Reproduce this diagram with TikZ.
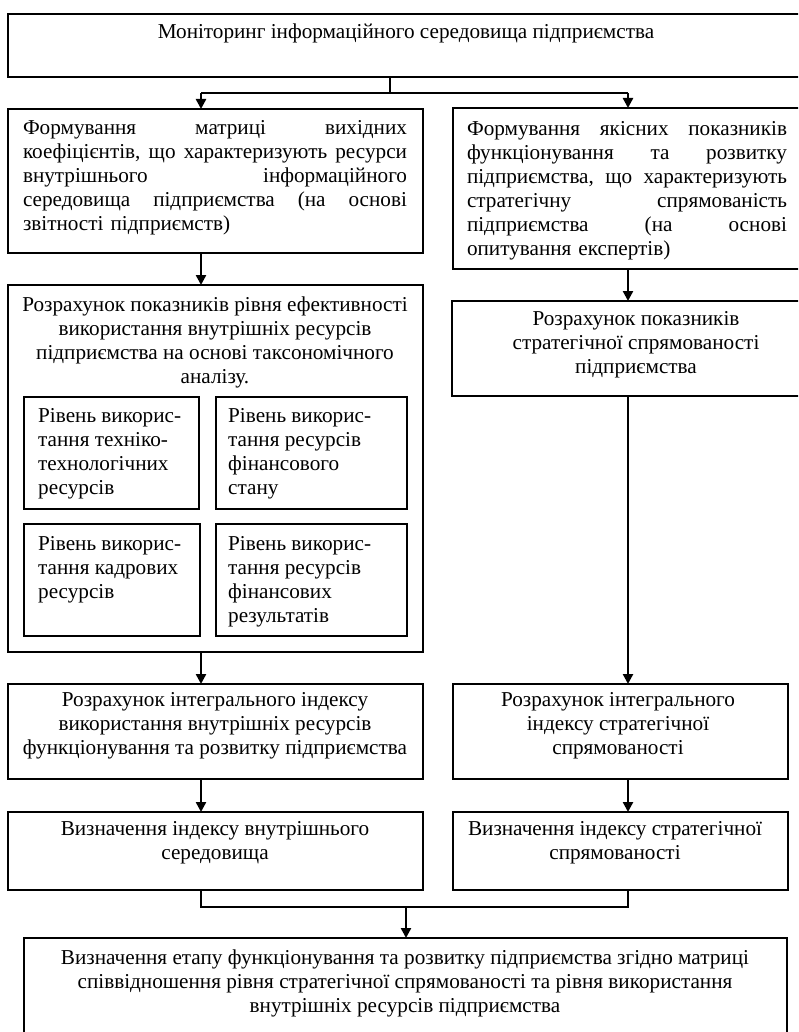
\documentclass[tikz,border=0pt]{standalone}
\usepackage{fontspec}
\setmainfont{Liberation Serif}
\usetikzlibrary{arrows.meta}
\begin{document}
\begin{tikzpicture}[x=1pt,y=-1pt,
  box/.style={draw=black,line width=1.4pt,rectangle,inner sep=0pt,outer sep=0pt},
  txt/.style={inner sep=0pt,font=\fontsize{21.2}{24}\selectfont},
  arr/.style={line width=2.4pt,-{Triangle[width=10pt,length=10pt]}},
  con/.style={line width=1.4pt}]
\useasboundingbox (0,0) rectangle (798,1032);
\fill[white] (0,0) rectangle (798,1032);
\clip (0,0) rectangle (798,1032);
% x positions of the vertical connectors
\coordinate (lx) at (201,0);
\coordinate (rx) at (628,0);
\coordinate (tx) at (390,0);
\coordinate (bx) at (406,0);
% boxes
\node[box,minimum width=797,minimum height=63] (T) at (406.5,45.5) {};
\node[box,minimum width=415,minimum height=144] (L1) at (215.5,181) {};
\node[box,minimum width=367,minimum height=161] (R1) at (636.5,188.5) {};
\node[box,minimum width=415,minimum height=367] (Lb) at (215.5,468.5) {};
\node[box,minimum width=175,minimum height=112] (i1) at (111.5,453) {};
\node[box,minimum width=191,minimum height=112] (i2) at (311.5,453) {};
\node[box,minimum width=176,minimum height=112] (i3) at (112,580) {};
\node[box,minimum width=191,minimum height=112] (i4) at (311.5,580) {};
\node[box,minimum width=368,minimum height=95] (R2) at (636,348.5) {};
\node[box,minimum width=415,minimum height=95] (L3) at (215.5,731.5) {};
\node[box,minimum width=335,minimum height=95] (R3) at (620.5,731.5) {};
\node[box,minimum width=415,minimum height=78] (L4) at (215.5,851) {};
\node[box,minimum width=335,minimum height=78] (R4) at (620.5,851) {};
\node[box,minimum width=763,minimum height=112] (B) at (405.5,994) {};
% texts
\node[txt] (Tt) at (406,33) {Моніторинг інформаційного середовища підприємства};
\node[txt,text width=384,align=left] (L1t) at (215,178) {Формування\hfill матриці\hfill вихідних\\ коефіцієнтів,\hfill що\hfill характеризують\hfill ресурси\\ внутрішнього\hfill інформаційного\\ середовища\hfill підприємства\hfill (на\hfill основі\\ звітності підприємств)};
\node[txt,text width=320,align=left] (R1t) at (627,191) {Формування\hfill якісних\hfill показників\\ функціонування\hfill та\hfill розвитку\\ підприємства,\hfill що\hfill характеризують\\ стратегічну\hfill спрямованість\\ підприємства\hfill (на\hfill основі\\ опитування експертів)};
\node[txt,align=center] (Lbt) at (215,342) {Розрахунок показників рівня ефективності\\ використання внутрішніх ресурсів\\ підприємства на основі таксономічного\\ аналізу.};
\node[txt,align=left,anchor=west] (i1t) at (38,454) {Рівень викорис-\\ тання техніко-\\ технологічних\\ ресурсів};
\node[txt,align=left,anchor=west] (i2t) at (228,454) {Рівень викорис-\\ тання ресурсів\\ фінансового\\ стану};
\node[txt,align=left,anchor=west] (i3t) at (38,570) {Рівень викорис-\\ тання кадрових\\ ресурсів};
\node[txt,align=left,anchor=west] (i4t) at (228,582) {Рівень викорис-\\ тання ресурсів\\ фінансових\\ результатів};
\node[txt,align=center] (R2t) at (636,345) {Розрахунок показників\\ стратегічної спрямованості\\ підприємства};
\node[txt,align=center] (L3t) at (215,726) {Розрахунок інтегрального індексу\\ використання внутрішніх ресурсів\\ функціонування та розвитку підприємства};
\node[txt,align=center] (R3t) at (618,726) {Розрахунок інтегрального\\ індексу стратегічної\\ спрямованості};
\node[txt,align=center] (L4t) at (215,843) {Визначення індексу внутрішнього\\ середовища};
\node[txt,align=center] (R4t) at (615,843) {Визначення індексу стратегічної\\ спрямованості};
\node[txt,align=center] (Bt) at (405,983) {Визначення етапу функціонування та розвитку підприємства згідно матриці\\ співвідношення рівня стратегічної спрямованості та рівня використання\\ внутрішніх ресурсів підприємства};
% connectors
\coordinate (tj) at (390,93);
\draw[con] (T.south -| tx) -- (tj);
\draw[con] (tj -| lx) -- (tj -| rx);
\draw[arr] (tj -| lx) -- (L1.north -| lx);
\draw[arr] (tj -| rx) -- (R1.north -| rx);
\draw[arr] (L1.south -| lx) -- (Lb.north -| lx);
\draw[arr] (R1.south -| rx) -- (R2.north -| rx);
\draw[arr] (Lb.south -| lx) -- (L3.north -| lx);
\draw[arr] (R2.south -| rx) -- (R3.north -| rx);
\draw[arr] (L3.south -| lx) -- (L4.north -| lx);
\draw[arr] (R3.south -| rx) -- (R4.north -| rx);
\coordinate (bj) at (406,907);
\draw[con,line width=1.2pt] (L4.south -| lx) -- (bj -| lx) -- (bj -| rx) -- (R4.south -| rx);
\draw[arr] (bj) -- (B.north -| bx);
\end{tikzpicture}
\end{document}
